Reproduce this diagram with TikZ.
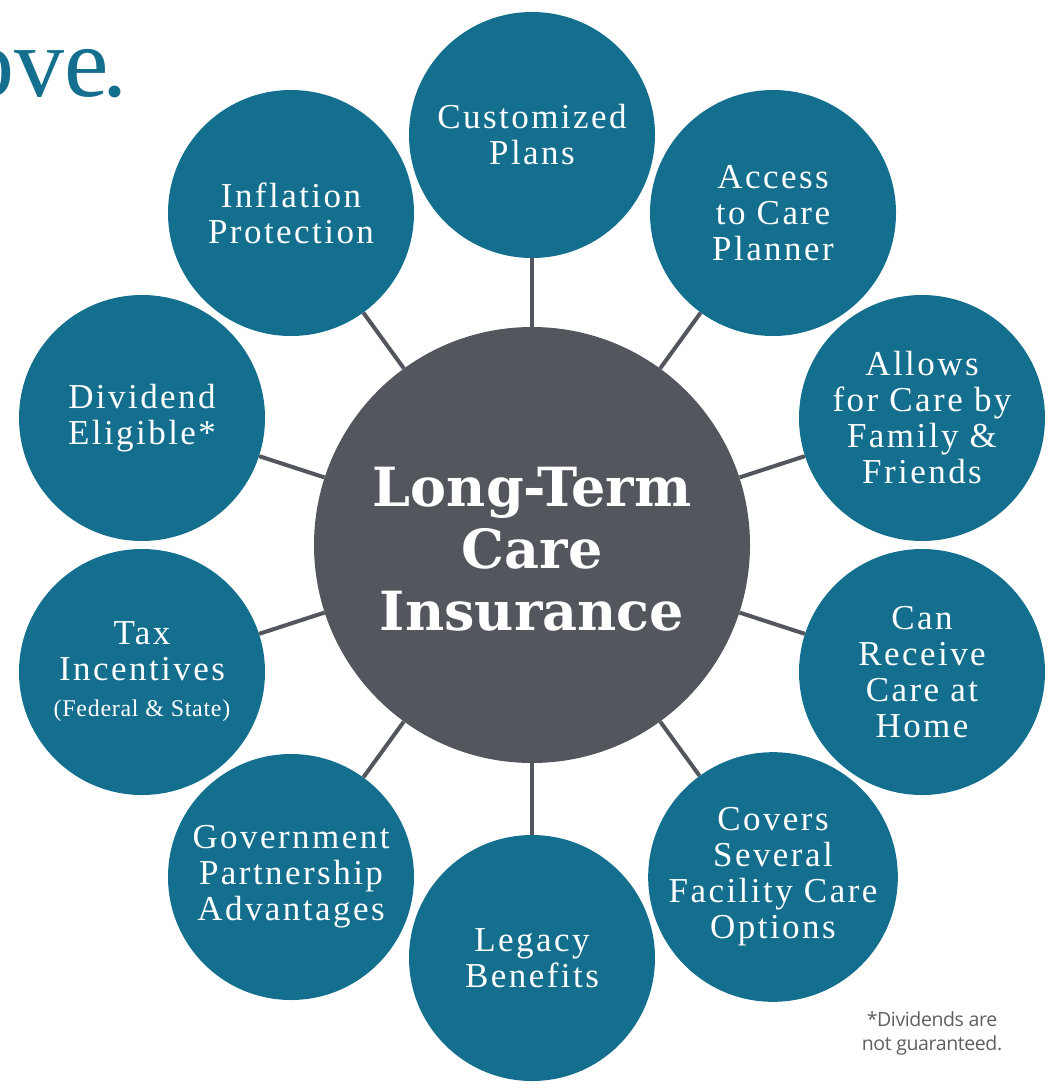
\documentclass[tikz,border=0pt]{standalone}
\usepackage{fontspec}
\setmainfont{Liberation Serif}
\newfontfamily\labelfont[LetterSpace=7]{Liberation Serif}
\newfontfamily\smallfont[LetterSpace=3]{Liberation Serif}
\newfontfamily\titlefont{DejaVu Serif}
\newfontfamily\notefont[LetterSpace=-2]{Open Sans}
\definecolor{teal}{HTML}{146F8E}
\definecolor{hubgray}{HTML}{53565C}
\definecolor{notegray}{HTML}{5E5F63}
\tikzset{
  outer/.style={circle, minimum size=246pt, inner sep=0pt, fill=teal, text=white, align=center,
    font={\labelfont\fontsize{35}{36}\selectfont}},
  hub/.style={circle, minimum size=436pt, inner sep=0pt, fill=hubgray},
  hubtext/.style={text=white, align=center, inner sep=0pt,
    font={\titlefont\bfseries\fontsize{54}{62}\selectfont}},
  spoke/.style={draw=hubgray, line width=4pt},
}
\begin{document}
\begin{tikzpicture}[x=1pt,y=-1pt]
\path[use as bounding box] (0,0) rectangle (1052,1084);
\clip (0,0) rectangle (1052,1084);
\node[anchor=base east, text=teal, font={\fontsize{100}{100}\selectfont}, inner sep=0pt] (head) at (128,96) {ove\kern-6pt.};
\node[hub] (c) at (532,545) {};
\node[hubtext] (ctext) at (532,549) {Long-Term\\Care\\Insurance};
\node[outer] (n1) at (532,135) {Customized\\Plans};
\node[outer] (n2) at (773,213) {Access\\to Care\\Planner};
\node[outer] (n3) at (922,418) {Allows\\for Care by\\Family \&\\Friends};
\node[outer] (n4) at (922,672) {Can\\Receive\\Care at\\Home};
\node[outer] (n5) at (773,877) {Covers\\Several\\Facility Care\\Options};
\node[outer] (n6) at (532,958) {Legacy\\Benefits};
\node[outer] (n7) at (291,877) {Government\\Partnership\\Advantages};
\node[outer] (n8) at (142,672) {Tax\\Incentives\\{\smallfont\fontsize{24}{30}\selectfont (Federal \& State)}};
\node[outer] (n9) at (142,418) {Dividend\\Eligible*};
\node[outer] (n10) at (291,213) {Inflation\\Protection};
\foreach \n in {n1,n2,n3,n4,n5,n6,n7,n8,n9,n10} {
  \draw[spoke] (c) -- (\n);
}
\node[align=center, text=notegray, font={\notefont\fontsize{19.5}{24}\selectfont}, inner sep=0pt] (note) at (932,1033) {*Dividends are\\not guaranteed.};
\end{tikzpicture}
\end{document}
